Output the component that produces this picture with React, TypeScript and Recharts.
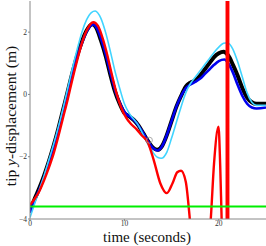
import React from "react";
import { LineChart, Line, XAxis, YAxis, ReferenceDot } from "recharts";

const blackSeries: [number, number][] = [
  [0, -3.75], [0.5, -3.35], [1, -3.0], [1.5, -2.6], [2, -2.15], [2.5, -1.65], [3, -1.1],
  [3.5, -0.5], [4, 0.1], [4.5, 0.7], [5, 1.25], [5.5, 1.7], [6, 2.05], [6.6, 2.25],
  [7, 2.15], [7.5, 1.75], [8, 1.25], [8.5, 0.65], [9, 0.1], [9.5, -0.3], [10, -0.6],
  [10.5, -0.7], [11, -0.82], [11.5, -1.0], [12, -1.25], [12.5, -1.5], [13, -1.7],
  [13.5, -1.78], [14, -1.65], [14.5, -1.3], [15, -0.85], [15.5, -0.4], [16, -0.05],
  [16.5, 0.25], [17, 0.38], [17.5, 0.45], [18, 0.6], [18.5, 0.8], [19, 1.0], [19.5, 1.2],
  [20, 1.32], [20.5, 1.37], [21, 1.25], [21.5, 0.95], [22, 0.6], [22.5, 0.2], [23, -0.1],
  [23.5, -0.25], [24, -0.3], [25, -0.3],
];

const blueSeries: [number, number][] = [
  [0, -3.8], [0.5, -3.4], [1, -3.05], [1.5, -2.65], [2, -2.2], [2.5, -1.7], [3, -1.15],
  [3.5, -0.55], [4, 0.05], [4.5, 0.65], [5, 1.2], [5.5, 1.65], [6, 2.02], [6.7, 2.25],
  [7.1, 2.12], [7.6, 1.72], [8.1, 1.2], [8.6, 0.6], [9.1, 0.05], [9.6, -0.33], [10.1, -0.6],
  [10.6, -0.72], [11.1, -0.85], [11.6, -1.05], [12.1, -1.3], [12.6, -1.55], [13.1, -1.74],
  [13.5, -1.8], [14, -1.66], [14.5, -1.3], [15, -0.85], [15.5, -0.4], [16, -0.05],
  [16.5, 0.2], [17, 0.32], [17.5, 0.4], [18, 0.5], [18.5, 0.65], [19, 0.8], [19.5, 0.95],
  [20, 1.07], [20.6, 1.12], [21, 1.0], [21.5, 0.7], [22, 0.3], [22.5, -0.05], [23, -0.3],
  [23.5, -0.42], [24, -0.45], [25, -0.42],
];

const cyanSeries: [number, number][] = [
  [0, -3.95], [0.5, -3.5], [1, -3.05], [1.5, -2.6], [2, -2.1], [2.5, -1.6], [3, -1.05],
  [3.5, -0.45], [4, 0.2], [4.5, 0.85], [5, 1.45], [5.5, 2.0], [6, 2.4], [6.5, 2.63],
  [6.9, 2.68], [7.5, 2.45], [8, 2.0], [8.5, 1.4], [9, 0.75], [9.5, 0.2], [10, -0.3],
  [10.5, -0.6], [11, -0.8], [11.5, -1.0], [12, -1.3], [12.5, -1.6], [13, -1.85],
  [13.5, -2.02], [13.9, -2.05], [14.5, -1.85], [15, -1.4], [15.5, -0.9], [16, -0.4],
  [16.5, 0.05], [17, 0.35], [17.5, 0.55], [18, 0.75], [18.5, 0.95], [19, 1.15],
  [19.5, 1.35], [20, 1.52], [20.5, 1.64], [20.9, 1.66], [21.5, 1.45], [22, 1.05],
  [22.5, 0.55], [23, 0.05], [23.5, -0.25], [24, -0.35], [25, -0.35],
];

const redSeries: [number, number][] = [
  [0, -3.55], [0.5, -3.35], [1, -3.1], [1.5, -2.75], [2, -2.35], [2.5, -1.9], [3, -1.35],
  [3.5, -0.75], [4, -0.15], [4.5, 0.5], [5, 1.1], [5.5, 1.65], [6, 2.05], [6.7, 2.32],
  [7.2, 2.2], [7.7, 1.8], [8.2, 1.25], [8.7, 0.6], [9.2, 0.0], [9.7, -0.45], [10.2, -0.75],
  [10.7, -0.95], [11.3, -1.12], [11.8, -1.3], [12.5, -1.55], [13.1, -2.1], [13.8, -2.85],
  [14.5, -3.17], [15.1, -2.85], [15.6, -2.5], [16.0, -2.45], [16.5, -2.8], [16.9, -3.9],
  [17.2, -5.0], [18.0, -8.0], [18.9, -5.0], [19.15, -4.0], [19.5, -2.2], [19.97, -1.04],
  [20.15, -2.3], [20.3, -4.0], [20.45, -5.5], [20.82, -200], [20.86, 200], [20.98, 200],
  [21.02, -200],
];

const greenSeries: [number, number][] = [
  [0, -3.6], [25, -3.6],
];

const markerPoint = { t: 12.65, v: -1.47 };

const xTicks = [0, 10, 20];
const yTicks = [-4, -2, 0, 2];

const toRows = (s: [number, number][]) => s.map(([t, v]) => ({ t, v }));

const serif = "'Liberation Serif', 'DejaVu Serif', serif";

const fmt = (v: number) => (v < 0 ? "\u2212" + Math.abs(v) : String(v));

const XLabel = (props: any) => {
  const vb = props.viewBox || {};
  const cx = vb.x + vb.width / 2 - 1;
  return (
    <text x={cx} y={242} textAnchor="middle" fontFamily={serif} fontSize={15} fill="#111">
      time (seconds)
    </text>
  );
};

const YLabel = (props: any) => {
  const vb = props.viewBox || {};
  const cx = 10;
  const cy = vb.y + vb.height / 2 + 6;
  return (
    <text
      x={cx}
      y={cy}
      transform={`rotate(-90 ${cx} ${cy})`}
      textAnchor="middle"
      dominantBaseline="central"
      fontFamily={serif}
      fontSize={15.5}
      fill="#111"
    >
      tip <tspan fontStyle="italic">y</tspan>-displacement (m)
    </text>
  );
};

export default function App() {
  return (
    <div style={{ position: "absolute", left: 0, top: 0, width: 266, height: 246, background: "#fff" }}>
      <LineChart width={266} height={246} margin={{ top: 1, right: 0, bottom: 0, left: 0 }}>
        <XAxis
          type="number"
          dataKey="t"
          domain={[0, 25]}
          ticks={xTicks}
          allowDataOverflow
          height={27}
          stroke="#888"
          tickSize={2}
          tickMargin={0}
          tick={{ fontFamily: serif, fontSize: 7.5, fill: "#333" }}
          tickFormatter={fmt}
          label={<XLabel />}
        />
        <YAxis
          type="number"
          dataKey="v"
          domain={[-4, 3]}
          ticks={yTicks}
          allowDataOverflow
          width={30}
          stroke="#888"
          tickSize={2}
          tickMargin={1}
          tick={{ fontFamily: serif, fontSize: 7.5, fill: "#333" }}
          tickFormatter={fmt}
          label={<YLabel />}
        />
        <Line data={toRows(blackSeries)} dataKey="v" type="monotone" stroke="#000000" strokeWidth={4} dot={false} isAnimationActive={false} />
        <Line data={toRows(blueSeries)} dataKey="v" type="monotone" stroke="#0000ee" strokeWidth={2.6} dot={false} isAnimationActive={false} />
        <Line data={toRows(cyanSeries)} dataKey="v" type="monotone" stroke="#40d4ff" strokeWidth={1.6} dot={false} isAnimationActive={false} />
        <Line data={toRows(redSeries)} dataKey="v" type="monotone" stroke="#ff0000" strokeWidth={2.4} dot={false} isAnimationActive={false} />
        <Line data={toRows(greenSeries)} dataKey="v" type="linear" stroke="#00ee00" strokeWidth={2} dot={false} isAnimationActive={false} />
        <ReferenceDot x={markerPoint.t} y={markerPoint.v} r={3} fill="none" stroke="#999" strokeWidth={0.8} />
      </LineChart>
    </div>
  );
}
